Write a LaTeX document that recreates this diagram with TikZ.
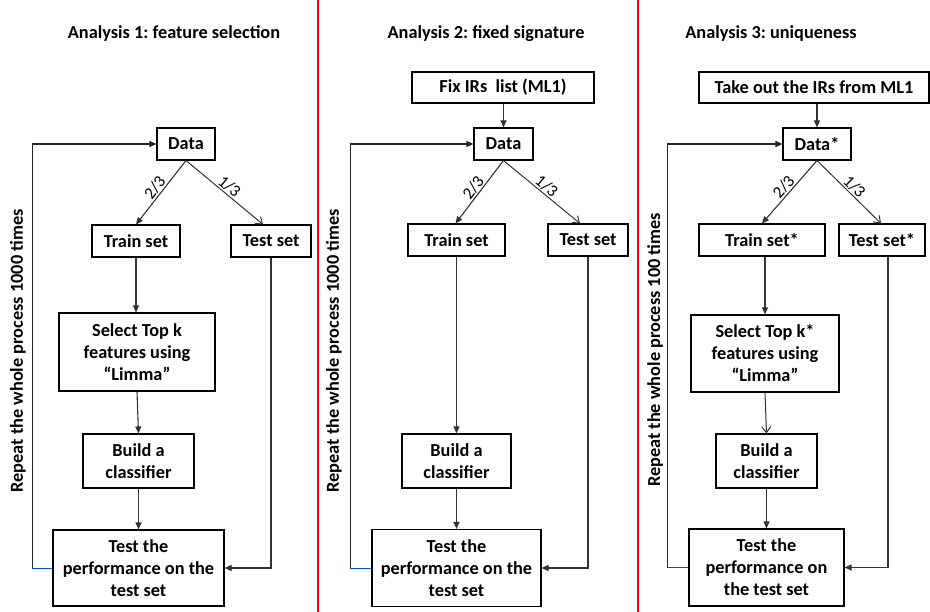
\documentclass[tikz,border=0pt]{standalone}
\usepackage{fontspec}
\setmainfont{Carlito}
\usetikzlibrary{arrows.meta,calc}
\begin{document}
\begin{tikzpicture}[x=1pt,y=-1pt,
 box/.style={draw=black, line width=1.1pt, inner sep=0pt, align=center, font=\bfseries\fontsize{18.3}{22}\selectfont},
 conn/.style={draw=black!80, line width=1.1pt, -{Triangle[length=7pt,width=6pt]}},
 openconn/.style={draw=black!80, line width=1pt, -{Straight Barb[length=6pt,width=9pt]}},
 fraclab/.style={font=\fontsize{17}{18}\selectfont, inner sep=1pt},
 titlelab/.style={font=\bfseries\fontsize{18.3}{20}\selectfont},
 replab/.style={rotate=90, font=\bfseries\fontsize{18.3}{20}\selectfont},
 sepline/.style={draw=red, line width=2pt},
 backline/.style={draw=blue!60!cyan!80!black, line width=0.8pt},
 loopline/.style={draw=black!85, line width=1.1pt, -{Triangle[length=7pt,width=6pt]}}
]
\useasboundingbox (0,0) rectangle (930,612);

% separators
\coordinate (s1t) at (318,0); \coordinate (s1b) at (318,612);
\coordinate (s2t) at (638,0); \coordinate (s2b) at (638,612);
\draw[sepline] (s1t) -- (s1b);
\draw[sepline] (s2t) -- (s2b);

% titles
\node[titlelab] (t1) at (174,34) {Analysis 1:\ feature selection};
\node[titlelab] (t2) at (486,34) {Analysis 2:\ fixed signature};
\node[titlelab] (t3) at (771,34) {Analysis 3:\ uniqueness};

% rotated labels
\node[replab] (r1) at (18,351) {Repeat the whole process 1000 times};
\node[replab] (r2) at (334,351) {Repeat the whole process 1000 times};
\node[replab] (r3) at (655,350) {Repeat the whole process 100 times};

% ---------- Panel 1 ----------
\node[box, minimum width=58pt, minimum height=32pt] (data1) at (186,144) {Data};
\node[box, minimum width=88pt, minimum height=32pt] (train1) at (136,241) {Train set};
\node[box, minimum width=80pt, minimum height=32pt] (test1) at (271,241) {Test set};
\node[box, minimum width=156pt, minimum height=78pt] (sel1) at (137,352) {Select Top k\\features using\\“Limma”};
\node[box, minimum width=111pt, minimum height=54pt] (build1) at (138.5,461) {Build a\\classifier};
\node[box, minimum width=171pt, minimum height=76pt] (perf1) at (138.5,568) {Test the\\performance on the\\test set};

\draw[conn] (data1.south) -- node[fraclab, midway, sloped, above] {2/3} (train1.north);
\draw[openconn] (data1.south) -- node[fraclab, midway, sloped, above] {1/3} ([xshift=-8pt]test1.north);
\draw[conn] (train1.south) -- (train1.south |- sel1.north);
\draw[conn] (sel1.south) -- (build1.north);
\draw[conn] (build1.south) -- (perf1.north);
\draw[conn] (test1.south) |- (perf1.east);
\draw[backline] (perf1.west) -- ++(-20,0) coordinate (l1);
\draw[loopline] (l1) |- (data1.west);

% ---------- Panel 2 ----------
\node[box, minimum width=182pt, minimum height=31pt] (fix2) at (503,87.5) {Fix IRs\ \ list (ML1)};
\node[box, minimum width=59pt, minimum height=32pt] (data2) at (503.5,144) {Data};
\node[box, minimum width=97pt, minimum height=32pt] (train2) at (456.5,240) {Train set};
\node[box, minimum width=80pt, minimum height=32pt] (test2) at (588,240) {Test set};
\node[box, minimum width=109pt, minimum height=54pt] (build2) at (456.5,461) {Build a\\classifier};
\node[box, minimum width=169pt, minimum height=77pt] (perf2) at (456.5,568) {Test the\\performance on the\\test set};

\draw[conn] (fix2.south -| data2.north) -- (data2.north);
\draw[conn] (data2.south) -- node[fraclab, midway, sloped, above] {2/3} ([xshift=-1pt]train2.north);
\draw[openconn] (data2.south) -- node[fraclab, midway, sloped, above] {1/3} ([xshift=-8pt]test2.north);
\draw[conn] (train2.south) -- (build2.north);
\draw[conn] (build2.south) -- (perf2.north);
\draw[conn] (test2.south) |- (perf2.east);
\draw[backline] (perf2.west) -- ++(-21,0) coordinate (l2);
\draw[loopline] (l2) |- (data2.west);

% ---------- Panel 3 ----------
\node[box, minimum width=230pt, minimum height=31pt] (take3) at (814,87.5) {Take out the IRs from ML1};
\node[box, minimum width=68pt, minimum height=32pt] (data3) at (817,144) {Data*};
\node[box, minimum width=126pt, minimum height=32pt] (train3) at (762,240) {Train set*};
\node[box, minimum width=86pt, minimum height=32pt] (test3) at (882,240) {Test set*};
\node[box, minimum width=148pt, minimum height=77pt] (sel3) at (765,353.5) {Select Top k*\\features using\\“Limma”};
\node[box, minimum width=101pt, minimum height=54pt] (build3) at (766.5,461) {Build a\\classifier};
\node[box, minimum width=155pt, minimum height=77pt] (perf3) at (766.5,567.5) {Test the\\performance on\\the test set};

\draw[conn] (take3.south -| data3.north) -- (data3.north);
\draw[conn] (data3.south) -- node[fraclab, midway, sloped, above] {2/3} (train3.north);
\draw[openconn] (data3.south) -- node[fraclab, midway, sloped, above] {1/3} ([xshift=-1pt]test3.north);
\draw[conn] (train3.south -| sel3.north) -- (sel3.north);
\draw[openconn] (sel3.south) -- (build3.north);
\draw[conn] (build3.south) -- (perf3.north);
\draw[conn] ([xshift=6pt]test3.south) |- (perf3.east);
\draw[backline] (perf3.west) -- ++(-21,0) coordinate (l3);
\draw[loopline] (l3) |- (data3.west);
\end{tikzpicture}
\end{document}
